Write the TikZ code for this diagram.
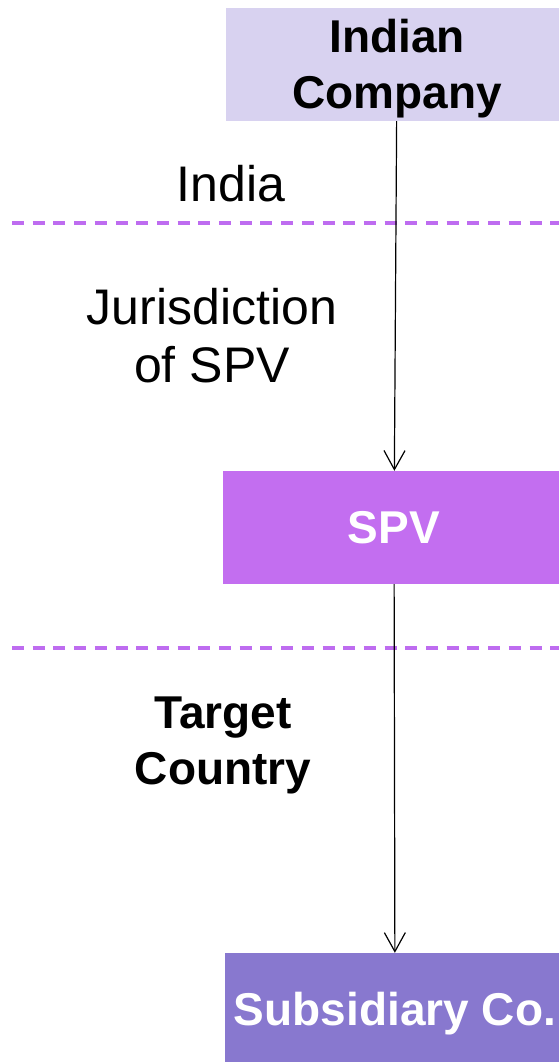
\documentclass[tikz,border=0pt]{standalone}
\usepackage{fontspec}
\setmainfont{Liberation Sans}
\usetikzlibrary{arrows.meta}
\definecolor{boxA}{HTML}{D8D2F0}
\definecolor{boxB}{HTML}{C36EF0}
\definecolor{boxC}{HTML}{8878CF}
\definecolor{divcol}{HTML}{BE6CF0}
\tikzset{
  boxnode/.style={rectangle, inner sep=0pt, minimum width=342pt, minimum height=113pt, align=center,
    font=\fontsize{46}{56}\selectfont\bfseries},
  lbl/.style={inner sep=0pt, align=center, font=\fontsize{50}{58}\selectfont},
  lblbold/.style={inner sep=0pt, align=center, font=\fontsize{46}{56}\selectfont\bfseries},
  arr/.style={draw=black, line width=1.2pt, -{Straight Barb[length=19pt,width=21pt,line width=1.2pt]}},
  divider/.style={draw=divcol, line width=3.2pt, dash pattern=on 12pt off 8.7pt}
}
\begin{document}
\begin{tikzpicture}[x=1pt,y=-1pt]
\useasboundingbox (0,0) rectangle (559,1062);
\fill[white] (0,0) rectangle (559,1062);
% dividers
\draw[divider] (12,223) -- (559,223);
\draw[divider] (12,648) -- (559,648);
% boxes
\node[boxnode, fill=boxA, text=black] (ic) at (397,64.5) {\rule{0pt}{42.5pt}Indian\\Company};
\node[boxnode, fill=boxB, text=white, text depth=0pt] (spv) at (394,527.5) {SPV};
\node[boxnode, fill=boxC, text=white, text depth=0pt, minimum width=340pt, minimum height=112pt] (sub) at (395,1009) {Subsidiary Co.};
% labels
\node[lbl, anchor=base] (lindia) at (231,201) {India};
\node[lbl] (ljur) at (212,336) {Jurisdiction\\of SPV};
\node[lblbold] (ltarget) at (223,745) {Target\\Country};
% connectors
\draw[arr] (ic) -- (spv);
\draw[arr] (spv) -- (sub);
\end{tikzpicture}
\end{document}
